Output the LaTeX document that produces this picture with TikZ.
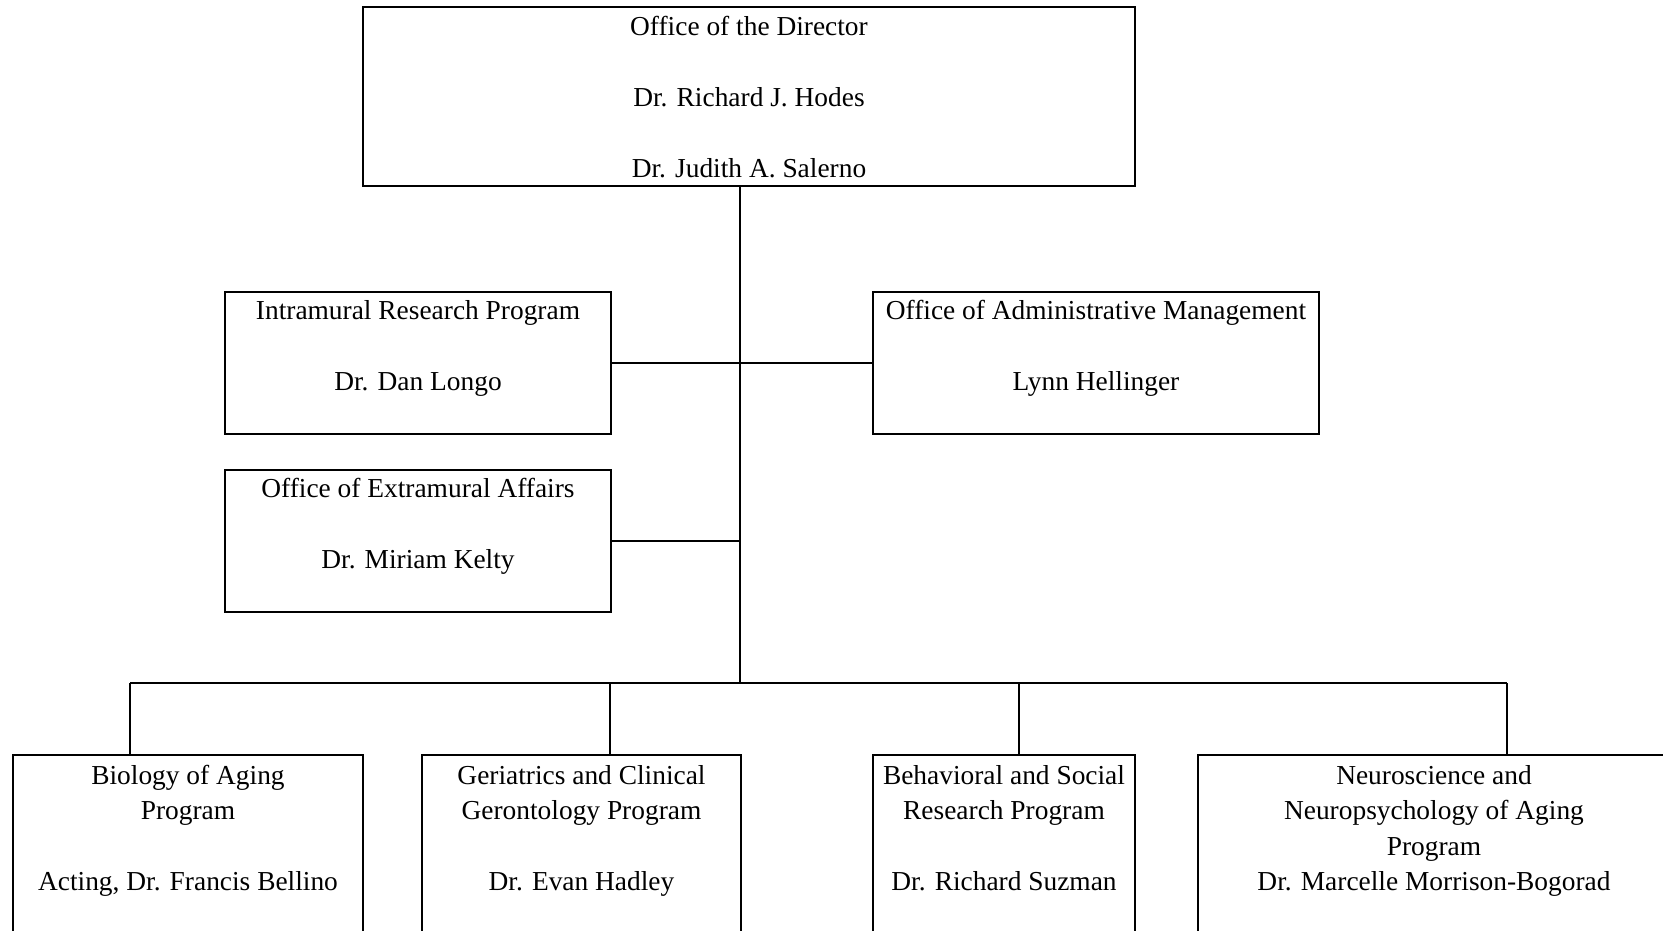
\documentclass[tikz,border=0pt]{standalone}
\usepackage{fontspec}
\setmainfont{Liberation Serif}
\newcommand{\ls}{\rule[-7.6pt]{0pt}{35.5pt}}

\begin{document}
\begin{tikzpicture}[x=1pt,y=-1pt,
  unit/.style={draw,line width=2pt,align=center,inner xsep=4pt,inner ysep=0pt,
    font=\fontsize{27.4}{35.5}\selectfont},
  link/.style={line width=2pt}]
\useasboundingbox (0,0) rectangle (1663,930);
\clip (0,0) rectangle (1663,930);

% director
\node[unit,minimum width=772,minimum height=179] (dir) at (749,96.5)
  {\ls Office of the Director\\ \ls\\ \ls Dr. Richard J. Hodes\\ \ls\\ \ls Dr. Judith A. Salerno};

% staff offices
\node[unit,minimum width=386,minimum height=142] (intra) at (418,363)
  {\ls Intramural Research Program\\ \ls\\ \ls Dr. Dan Longo\\ \ls};
\node[unit,minimum width=446,minimum height=142] (admin) at (1096,363)
  {\ls Office of Administrative Management\\ \ls\\ \ls Lynn Hellinger\\ \ls};
\node[unit,minimum width=386,minimum height=142] (extra) at (418,541)
  {\ls Office of Extramural Affairs\\ \ls\\ \ls Dr. Miriam Kelty\\ \ls};

% programs
\node[unit,minimum width=350,minimum height=180] (bio) at (188,845)
  {\ls Biology of Aging\\ \ls Program\\ \ls\\ \ls Acting, Dr. Francis Bellino\\ \ls};
\node[unit,minimum width=319,minimum height=180] (ger) at (581.5,845)
  {\ls Geriatrics and Clinical\\ \ls Gerontology Program\\ \ls\\ \ls Dr. Evan Hadley\\ \ls};
\node[unit,minimum width=262,minimum height=180] (beh) at (1004,845)
  {\ls Behavioral and Social\\ \ls Research Program\\ \ls\\ \ls Dr. Richard Suzman\\ \ls};
\node[unit,minimum width=472,minimum height=180] (neu) at (1434,845)
  {\ls Neuroscience and\\ \ls Neuropsychology of Aging\\ \ls Program\\ \ls Dr. Marcelle Morrison-Bogorad\\ \ls};

% lines
\coordinate (hub) at (740,683);
\coordinate (b1) at (130,683);
\coordinate (b2) at (610,683);
\coordinate (b3) at (1019,683);
\coordinate (b4) at (1507,683);
\draw[link] (dir.south -| hub) -- (hub);
\draw[link] (intra) -- (admin);
\draw[link] (extra.east) -- (extra.east -| hub);
\draw[link] (b1) -- (b4);
\foreach \b/\n in {b1/bio,b2/ger,b3/beh,b4/neu}
  \draw[link] (\b) -- (\b |- \n.north);
\end{tikzpicture}
\end{document}
